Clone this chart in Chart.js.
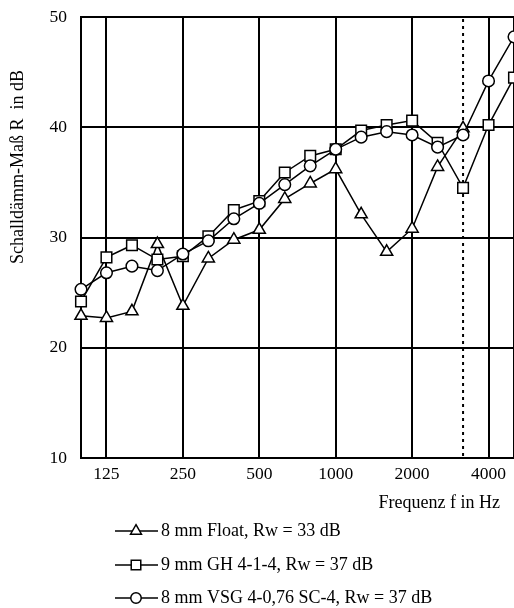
<!DOCTYPE html>
<html>
<head>
<meta charset="utf-8">
<script src="https://cdn.jsdelivr.net/npm/chart.js@4.4.1/dist/chart.umd.min.js"></script>
<style>
  html, body { margin: 0; padding: 0; background: #fff; }
  #wrap { width: 514px; height: 608px; }
</style>
</head>
<body>
<div id="wrap"><canvas id="chart"></canvas></div>
<script>
// third-octave bands, Hz
const freqs = ['100', '125', '160', '200', '250', '315', '400', '500', '630', '800', '1000', '1250', '1600', '2000', '2500', '3150', '4000', '5000']
const majorFreqs = ['125', '250', '500', '1000', '2000', '4000']
const markerFreq = '3150'

// Schalldämm-Maß R in dB
const float8 = [22.9, 22.7, 23.3, 29.4, 23.8, 28.1, 29.8, 30.7, 33.5, 34.9, 36.2, 32.1, 28.7, 30.8, 36.4, 39.9, null, null]
const gh9 = [24.2, 28.2, 29.3, 28.0, 28.3, 30.1, 32.5, 33.3, 35.9, 37.4, 38.0, 39.7, 40.2, 40.6, 38.6, 34.5, 40.2, 44.5]
const vsg8 = [25.3, 26.8, 27.4, 27.0, 28.5, 29.7, 31.7, 33.1, 34.8, 36.5, 38.0, 39.1, 39.6, 39.3, 38.2, 39.3, 44.2, 48.2]

const seriesLabels = ['8 mm Float, Rw = 33 dB', '9 mm GH 4-1-4, Rw = 37 dB', '8 mm VSG 4-0,76 SC-4, Rw = 37 dB']

const serif = "'Liberation Serif', 'Times New Roman', serif"
const tickSize = 17.5
const textSize = 18

const lineSeries = (label, data, pointStyle, radius, order) => ({
    label: label,
    data: data,
    borderColor: '#000',
    borderWidth: 1.5,
    pointStyle: pointStyle,
    pointRadius: radius,
    pointBackgroundColor: '#fff',
    pointBorderColor: '#000',
    pointBorderWidth: 1.5,
    tension: 0,
    order: order
})

const noPadding = (scale) => {
    scale.paddingLeft = 0
    scale.paddingRight = 0
    scale.paddingTop = 0
    scale.paddingBottom = 0
}

const dottedMarker = {
    id: 'dottedMarker',
    beforeDatasetsDraw: (chart) => {
        const {ctx, chartArea} = chart
        const x = chart.scales.x.getPixelForValue(freqs.indexOf(markerFreq))
        ctx.save()
        ctx.strokeStyle = '#000'
        ctx.lineWidth = 2
        ctx.setLineDash([3, 4])
        ctx.beginPath()
        ctx.moveTo(x, chartArea.top + 2)
        ctx.lineTo(x, chartArea.bottom)
        ctx.stroke()
        ctx.restore()
    }
}

const textsAndLegend = {
    id: 'textsAndLegend',
    afterDraw: (chart) => {
        const {ctx} = chart
        ctx.save()
        ctx.fillStyle = '#000'
        ctx.font = textSize + 'px ' + serif

        // y axis title
        ctx.save()
        ctx.translate(18, 167)
        ctx.rotate(-Math.PI / 2)
        ctx.textAlign = 'center'
        ctx.textBaseline = 'middle'
        ctx.fillText('Schalldämm-Maß R  in dB', 0, 0)
        ctx.restore()

        // x axis title
        ctx.textAlign = 'right'
        ctx.textBaseline = 'middle'
        ctx.fillText('Frequenz f in Hz', 500, 503)

        // legend, one entry per row
        const rows = [531, 565, 598]
        chart.data.datasets.forEach((ds, i) => {
            const y = rows[i]
            ctx.strokeStyle = '#000'
            ctx.lineWidth = 1.5
            ctx.beginPath()
            ctx.moveTo(115, y)
            ctx.lineTo(158, y)
            ctx.stroke()
            ctx.fillStyle = '#fff'
            Chart.helpers.drawPoint(ctx, {
                pointStyle: ds.pointStyle,
                radius: ds.pointRadius * 0.9,
                rotation: 0,
                borderWidth: 1.5
            }, 136, y)
            ctx.fillStyle = '#000'
            ctx.textAlign = 'left'
            ctx.fillText(ds.label, 161, y)
        })
        ctx.restore()
    }
}

new Chart(document.getElementById('chart'), {
    type: 'line',
    data: {
        labels: freqs,
        datasets: [
            lineSeries(seriesLabels[0], float8, 'triangle', 7, 3),
            lineSeries(seriesLabels[1], gh9, 'rect', 7.5, 2),
            lineSeries(seriesLabels[2], vsg8, 'circle', 5.8, 1)
        ]
    },
    options: {
        responsive: true,
        maintainAspectRatio: false,
        animation: false,
        layout: {
            autoPadding: false,
            padding: { top: 17, right: 0, left: 0, bottom: 0 }
        },
        plugins: {
            legend: { display: false },
            tooltip: { enabled: false }
        },
        scales: {
            x: {
                type: 'category',
                offset: false,
                afterFit: (scale) => {
                    scale.height = 150
                    noPadding(scale)
                },
                grid: {
                    drawTicks: false,
                    lineWidth: 2,
                    color: (c) => {
                        const f = freqs[c.index]
                        return (majorFreqs.includes(f) || f === '5000') ? '#000' : 'rgba(0,0,0,0)'
                    }
                },
                border: { display: true, color: '#000', width: 2 },
                ticks: {
                    autoSkip: false,
                    maxRotation: 0,
                    padding: 6,
                    color: '#000',
                    font: { family: serif, size: tickSize },
                    callback: (val, i) => majorFreqs.includes(freqs[i]) ? freqs[i] : ''
                }
            },
            y: {
                min: 10,
                max: 50,
                afterFit: (scale) => {
                    scale.width = 81
                    noPadding(scale)
                },
                grid: {
                    drawTicks: false,
                    lineWidth: 2,
                    color: '#000'
                },
                border: { display: true, color: '#000', width: 2 },
                ticks: {
                    stepSize: 10,
                    padding: 14,
                    color: '#000',
                    font: { family: serif, size: tickSize }
                }
            }
        }
    },
    plugins: [dottedMarker, textsAndLegend]
})
</script>
</body>
</html>
